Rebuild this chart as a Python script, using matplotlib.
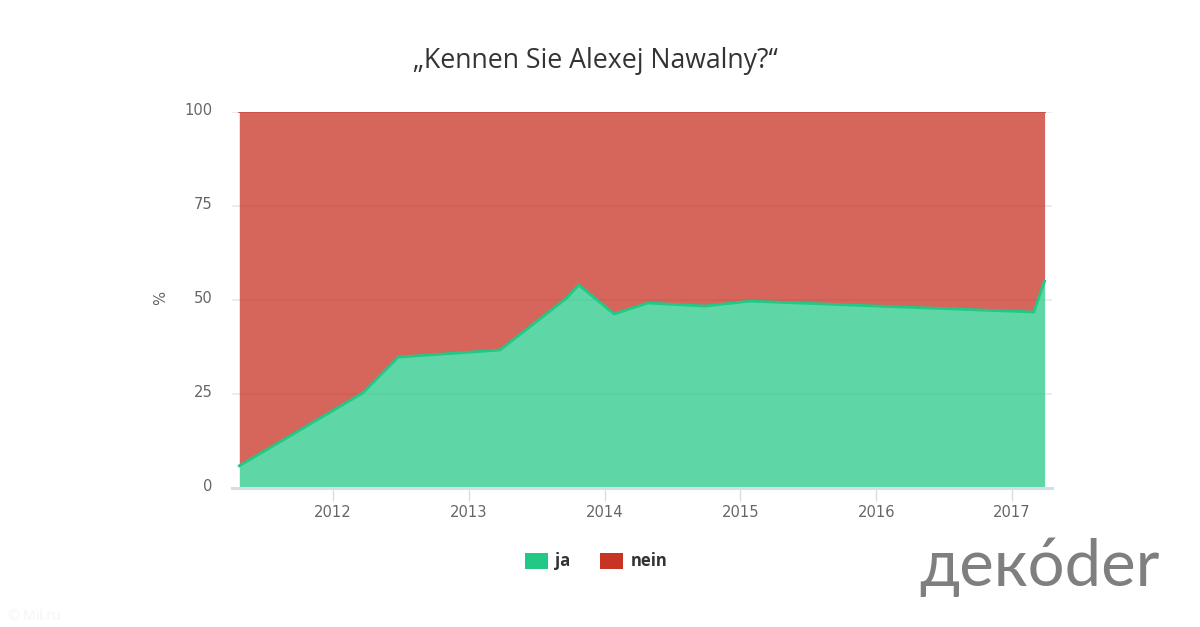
import matplotlib
matplotlib.use("Agg")
import matplotlib.pyplot as plt
from matplotlib.patches import Patch
from matplotlib.transforms import ScaledTranslation

years = [2011.31, 2012.22, 2012.48, 2013.23, 2013.72, 2013.81, 2014.07, 2014.32, 2014.74, 2015.07, 2017.16, 2017.24]
ja = [5.9, 25.3, 34.8, 36.7, 50.5, 54.0, 46.3, 49.2, 48.4, 49.7, 46.8, 55.0]
total = [100] * len(years)
year_ticks = [2012, 2013, 2014, 2015, 2016, 2017]
pct_ticks = [0, 25, 50, 75, 100]

W, H = 1200, 627
plt.rcParams['font.family'] = ['Open Sans', 'DejaVu Sans']
fig = plt.figure(figsize=(W / 100, H / 100), dpi=100, facecolor='white')
L, R, T, B = 232, 1052, 112, 488
ax = fig.add_axes([L / W, 1 - B / H, (R - L) / W, (B - T) / H])
ax.set_xlim(2012 + (L - 333) / 135.8, 2012 + (R - 333) / 135.8)
ax.set_ylim(0, 100)

ax.set_yticks(pct_ticks)
ax.set_xticks(year_ticks)
ax.grid(axis='y', color='#e9e9e9', lw=1.2, zorder=1)
ax.set_axisbelow(True)
ax.fill_between(years, ja, total, color='#c93324', alpha=0.75, lw=0, zorder=2)
ax.fill_between(years, 0, ja, color='#22c886', alpha=0.73, lw=0, zorder=2)
ax.plot(years, total, color='#c93324', lw=1.4, alpha=0.75, zorder=3)
ax.plot(years, ja, color='#22c886', lw=2.0, zorder=3, solid_joinstyle='miter')

for s in ['top', 'left', 'right']:
    ax.spines[s].set_visible(False)
ax.spines['bottom'].set_color('#d3dee8')
ax.spines['bottom'].set_linewidth(2.2)
ax.spines['bottom'].set_zorder(4)

tick_font = ['DejaVu Sans']
ax.tick_params(axis='y', length=0, pad=14, labelsize=10.6, labelcolor='#666666')
ax.tick_params(axis='x', length=9, width=1, color='#d3dee8', pad=3, labelsize=10.6, labelcolor='#666666')
shift = ScaledTranslation(0, 3 / 100, fig.dpi_scale_trans)
for lab in ax.get_yticklabels():
    lab.set_transform(lab.get_transform() + shift)
    lab.set_family(tick_font)
for lab in ax.get_xticklabels():
    lab.set_family(tick_font)

fig.text(161 / W, 1 - 298 / H, '%', rotation=90, ha='center', va='center', fontsize=10.6, color='#666666',
         family=tick_font)
fig.text(595.5 / W, 1 - 61 / H, '„Kennen Sie Alexej Nawalny?“', ha='center', va='center',
         fontsize=19.2, color='#333333')

handles = [Patch(facecolor='#22c886', edgecolor='none', label='ja'),
           Patch(facecolor='#c93324', edgecolor='none', label='nein')]
leg = fig.legend(handles=handles, loc='center', bbox_to_anchor=(596 / W, 1 - 561.5 / H), ncol=2, frameon=False,
                 handlelength=1.4, handleheight=1.1, handletextpad=0.45, columnspacing=1.75,
                 labelcolor='#333333', prop={'weight': 'bold', 'size': 12, 'family': 'Open Sans'})

fig.text(8 / W, 1 - 617 / H, '© Mil.ru', ha='left', va='center', fontsize=10, color='#f5f5f5')
fig.text(1039 / W, 1 - 586 / H, 'дeкóder', ha='center', va='baseline', fontsize=47, color='#7f7f7f',
         family=['Lato', 'DejaVu Sans'], weight='normal')

fig.savefig('out.png', dpi=100, facecolor='white')
